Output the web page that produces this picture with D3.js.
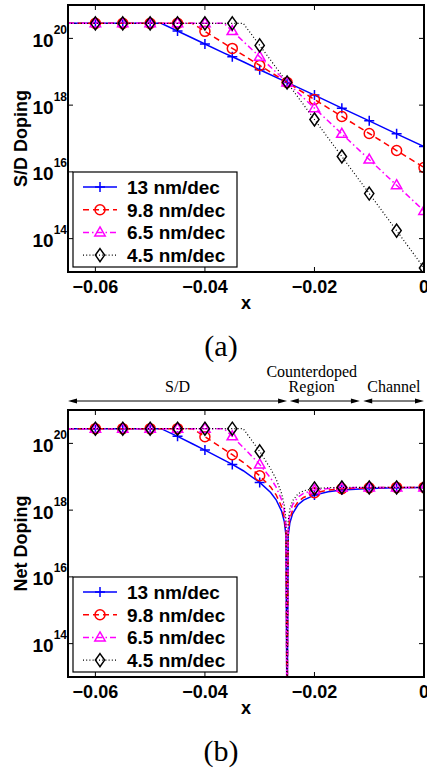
<!DOCTYPE html>
<html>
<head>
<meta charset="utf-8">
<script src="https://cdn.jsdelivr.net/npm/d3@7"></script>
<style>
  body { margin: 0; background: #fff; }
  svg { display: block; }
  .bold { font-family: "Liberation Sans", Arial, sans-serif; font-weight: bold; }
  .serif { font-family: "Liberation Serif", "Times New Roman", serif; }
</style>
</head>
<body>
<div id="canvas"></div>
<script>
const width = 427;
const height = 772;

// ---- data (log10 of doping, cm^-3) ----
const seriesNames = ["13 nm/dec", "9.8 nm/dec", "6.5 nm/dec", "4.5 nm/dec"];

// (a) S/D doping profiles
const xTop = [-0.065, -0.06, -0.055, -0.05, -0.048, -0.045, -0.0423, -0.04, -0.0365, -0.035, -0.033, -0.03, -0.025, -0.02, -0.015, -0.01, -0.005, 0];
const sd13 = [20.45, 20.45, 20.45, 20.45, 20.45, 20.22, 20.01, 19.83, 19.56, 19.45, 19.30, 19.06, 18.68, 18.30, 17.91, 17.53, 17.14, 16.76];
const sd98 = [20.45, 20.45, 20.45, 20.45, 20.45, 20.45, 20.45, 20.21, 19.85, 19.70, 19.50, 19.19, 18.68, 18.17, 17.66, 17.15, 16.64, 16.13];
const sd65 = [20.45, 20.45, 20.45, 20.45, 20.45, 20.45, 20.45, 20.45, 20.45, 20.22, 19.91, 19.45, 18.68, 17.91, 17.14, 16.37, 15.60, 14.83];
const sd45 = [20.45, 20.45, 20.45, 20.45, 20.45, 20.45, 20.45, 20.45, 20.45, 20.45, 20.45, 19.79, 18.68, 17.57, 16.46, 15.35, 14.24, 13.12];

// (b) net doping; goes to zero at the junction (x = -0.025), drawn off the bottom
const xNet = [-0.065, -0.06, -0.055, -0.05, -0.048, -0.045, -0.0423, -0.04, -0.0365, -0.035, -0.033, -0.03, -0.028, -0.027, -0.026, -0.0255, -0.0252, -0.025, -0.0248, -0.0245, -0.024, -0.023, -0.022, -0.02, -0.0175, -0.015, -0.01, -0.005, 0];
const net13 = [20.44, 20.44, 20.44, 20.44, 20.44, 20.21, 19.99, 19.80, 19.50, 19.37, 19.18, 18.83, 18.53, 18.31, 17.97, 17.65, 17.24, 11, 17.23, 17.61, 17.89, 18.16, 18.30, 18.45, 18.55, 18.60, 18.65, 18.67, 18.68];
const net98 = [20.44, 20.44, 20.44, 20.44, 20.44, 20.44, 20.44, 20.20, 19.82, 19.66, 19.43, 19.03, 18.69, 18.46, 18.10, 17.78, 17.36, 11, 17.34, 17.73, 18.00, 18.25, 18.38, 18.52, 18.60, 18.64, 18.67, 18.68, 18.68];
const net65 = [20.44, 20.44, 20.44, 20.44, 20.44, 20.44, 20.44, 20.44, 20.44, 20.21, 19.88, 19.37, 18.96, 18.69, 18.31, 17.97, 17.54, 11, 17.51, 17.89, 18.16, 18.39, 18.50, 18.60, 18.65, 18.67, 18.68, 18.68, 18.68];
const net45 = [20.44, 20.44, 20.44, 20.44, 20.44, 20.44, 20.44, 20.44, 20.44, 20.44, 20.44, 19.76, 19.24, 18.93, 18.50, 18.14, 17.71, 11, 17.67, 18.03, 18.28, 18.49, 18.58, 18.65, 18.67, 18.68, 18.68, 18.68, 18.68];

// markers sit every 5 nm
const markerX = [-0.06, -0.055, -0.05, -0.045, -0.04, -0.035, -0.03, -0.025, -0.02, -0.015, -0.01, -0.005, 0];

const xTicks = [-0.06, -0.04, -0.02, 0];
const xTickLabels = ["\u22120.06", "\u22120.04", "\u22120.02", "0"];
const yTickExps = [14, 16, 18, 20];

// region annotations above panel (b)
const regionNames = [["S/D"], ["Counterdoped", "Region"], ["Channel"]];
const regionFrom = [-0.065, -0.0245, -0.0111];
const regionTo = [-0.025, -0.0117, 0];
const regionLabelX = [-0.045, -0.0205, -0.0055];

// ---- styles ----
const styles = [
  { color: "#0000ff", dash: null, marker: "plus" },
  { color: "#ff0000", dash: "6,4", marker: "circle" },
  { color: "#ff00ff", dash: "6,3,1.5,3", marker: "triangle" },
  { color: "#000000", dash: "1,2.2", marker: "diamond" }
];

const plotLeft = 68, plotRight = 424;
const xScale = d3.scaleLinear().domain([-0.065, 0]).range([plotLeft, plotRight]);

let svg = d3.select('#canvas').append('svg')
  .attr('width', width)
  .attr('height', height);

drawPanel({
  id: 'a', top: 5, bottom: 272, xs: xTop,
  series: [sd13, sd98, sd65, sd45],
  ylabel: "S/D Doping", caption: "(a)", captionY: 356
});
drawPanel({
  id: 'b', top: 410, bottom: 677, xs: xNet,
  series: [net13, net98, net65, net45],
  ylabel: "Net Doping", caption: "(b)", captionY: 761
});
drawRegions(410);

function drawPanel(p) {
  let yScale = d3.scaleLog().domain([1e13, 1e21]).range([p.bottom, p.top]);
  let g = svg.append('g');

  g.append('clipPath').attr('id', 'clip-' + p.id)
    .append('rect')
    .attr('x', plotLeft).attr('y', p.top)
    .attr('width', plotRight - plotLeft).attr('height', p.bottom - p.top);

  let plot = g.append('g').attr('clip-path', 'url(#clip-' + p.id + ')');
  let line = d3.line()
    .x((d, i) => xScale(p.xs[i]))
    .y(d => yScale(Math.pow(10, d)));

  p.series.forEach((vals, k) => {
    let st = styles[k];
    plot.append('path')
      .attr('d', line(vals))
      .attr('fill', 'none')
      .attr('stroke', st.color)
      .attr('stroke-width', k == 3 ? 1.2 : 1.5)
      .attr('stroke-dasharray', st.dash);
    let pts = markerX.map(mx => [mx, vals[p.xs.indexOf(mx)]])
      .filter(d => d[1] >= 13);
    pts.forEach(d => {
      drawMarker(plot, st, xScale(d[0]), yScale(Math.pow(10, d[1])));
    });
  });

  // axes box
  g.append('rect')
    .attr('x', plotLeft).attr('y', p.top)
    .attr('width', plotRight - plotLeft).attr('height', p.bottom - p.top)
    .attr('fill', 'none').attr('stroke', '#000').attr('stroke-width', 2);

  // ticks (inward, on all four sides)
  xTicks.forEach((t, i) => {
    let x = xScale(t);
    g.append('line').attr('x1', x).attr('x2', x).attr('y1', p.bottom).attr('y2', p.bottom - 5)
      .attr('stroke', '#000').attr('stroke-width', 1);
    g.append('line').attr('x1', x).attr('x2', x).attr('y1', p.top).attr('y2', p.top + 5)
      .attr('stroke', '#000').attr('stroke-width', 1);
    g.append('text').attr('class', 'bold')
      .attr('x', x).attr('y', p.bottom + 21)
      .attr('text-anchor', 'middle').attr('font-size', 18)
      .text(xTickLabels[i]);
  });
  yTickExps.forEach(e => {
    let y = yScale(Math.pow(10, e));
    g.append('line').attr('x1', plotLeft).attr('x2', plotLeft + 5).attr('y1', y).attr('y2', y)
      .attr('stroke', '#000').attr('stroke-width', 1);
    g.append('line').attr('x1', plotRight).attr('x2', plotRight - 5).attr('y1', y).attr('y2', y)
      .attr('stroke', '#000').attr('stroke-width', 1);
    let t = g.append('text').attr('class', 'bold')
      .attr('x', plotLeft - 1).attr('y', y + 8.5)
      .attr('text-anchor', 'end').attr('font-size', 19);
    t.append('tspan').text('10');
    t.append('tspan').attr('dy', -13).attr('font-size', 12).text(e);
  });

  // axis labels
  g.append('text').attr('class', 'bold')
    .attr('x', xScale(-0.0325)).attr('y', p.bottom + 37)
    .attr('text-anchor', 'middle').attr('font-size', 18)
    .text('x');
  g.append('text').attr('class', 'bold')
    .attr('transform', 'translate(27,' + ((p.top + p.bottom) / 2) + ') rotate(-90)')
    .attr('text-anchor', 'middle').attr('font-size', 18)
    .text(p.ylabel);

  drawLegend(g, p.top + 167);

  g.append('text').attr('class', 'serif')
    .attr('x', 221).attr('y', p.captionY)
    .attr('text-anchor', 'middle').attr('font-size', 30)
    .text(p.caption);
}

function drawLegend(g, top) {
  let lg = g.append('g');
  lg.append('rect')
    .attr('x', 73).attr('y', top)
    .attr('width', 164).attr('height', 95)
    .attr('fill', '#fff').attr('stroke', '#000').attr('stroke-width', 1.2);
  seriesNames.forEach((name, k) => {
    let y = top + 15 + k * 22.7;
    let st = styles[k];
    lg.append('line')
      .attr('x1', 83).attr('x2', 117).attr('y1', y).attr('y2', y)
      .attr('stroke', st.color).attr('stroke-width', k == 3 ? 1.2 : 1.5)
      .attr('stroke-dasharray', st.dash);
    drawMarker(lg, st, 100, y);
    lg.append('text').attr('class', 'bold')
      .attr('x', 127).attr('y', y + 7)
      .attr('font-size', 19)
      .text(name);
  });
}

function drawMarker(g, st, x, y) {
  let m;
  if (st.marker == 'circle') {
    m = g.append('circle').attr('r', 5);
  } else {
    let d = {
      plus: 'M-5,0H5M0,-5V5',
      triangle: 'M0,-5.5L5.2,3.5L-5.2,3.5Z',
      diamond: 'M0,-6.5L4.6,0L0,6.5L-4.6,0Z'
    }[st.marker];
    m = g.append('path').attr('d', d);
  }
  m.attr('transform', st.marker == 'circle' ? null : 'translate(' + x + ',' + y + ')')
    .attr('cx', st.marker == 'circle' ? x : null)
    .attr('cy', st.marker == 'circle' ? y : null)
    .attr('fill', 'none')
    .attr('stroke', st.color)
    .attr('stroke-width', 1.5);
}

// arrows marking S/D, counterdoped region and channel
function drawRegions(plotTop) {
  let y = plotTop - 9;
  let g = svg.append('g');
  regionNames.forEach((lines, i) => {
    let x1 = xScale(regionFrom[i]), x2 = xScale(regionTo[i]);
    g.append('line').attr('x1', x1 + 4).attr('x2', x2 - 4).attr('y1', y).attr('y2', y)
      .attr('stroke', '#000').attr('stroke-width', 1);
    g.append('path')
      .attr('d', `M${x1},${y}L${x1 + 9},${y - 2.5}L${x1 + 9},${y + 2.5}Z` +
                 `M${x2},${y}L${x2 - 9},${y - 2.5}L${x2 - 9},${y + 2.5}Z`)
      .attr('fill', '#000');
    lines.forEach((s, j) => {
      g.append('text').attr('class', 'serif')
        .attr('x', xScale(regionLabelX[i]))
        .attr('y', y - 9 - (lines.length - 1 - j) * 15.5)
        .attr('text-anchor', 'middle').attr('font-size', 16)
        .text(s);
    });
  });
}
</script>
</body>
</html>
